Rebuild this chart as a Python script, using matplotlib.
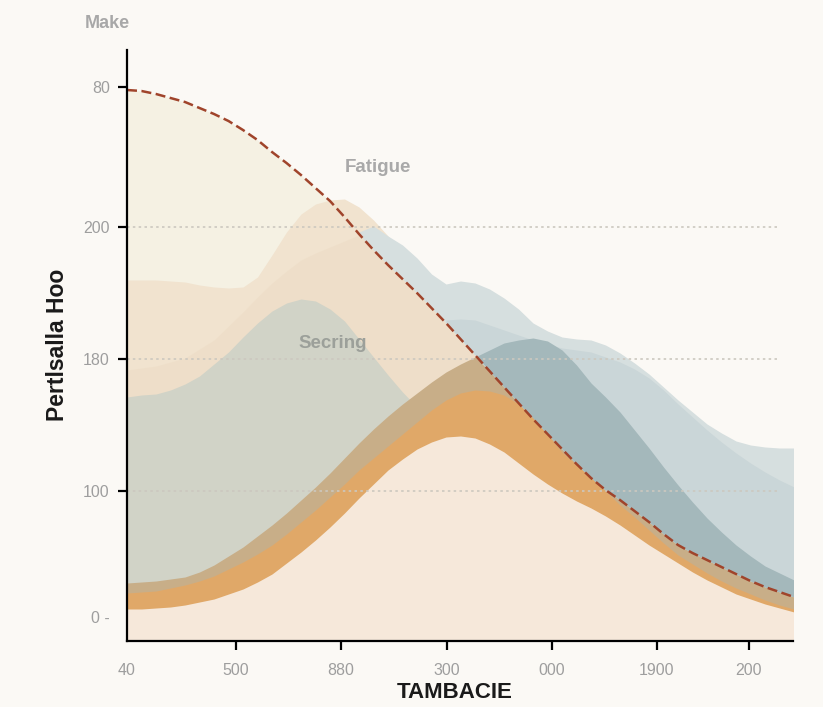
import numpy as np
import matplotlib
matplotlib.use('Agg')
import matplotlib.pyplot as plt

plt.rcParams['font.family'] = ['Liberation Sans', 'DejaVu Sans']

# sample positions along the x axis
x = [0, 14.5, 29, 43.5, 58, 72.5, 87, 101.5, 116, 130.5, 145, 159.5, 174, 188.5,
     203, 217.5, 232, 246.5, 261, 275.5, 290, 304.5, 319, 333.5, 348, 362.5, 377,
     391.5, 406, 420.5, 435, 449.5, 464, 478.5, 493, 507.5, 522, 536.5, 551, 565.5,
     580, 594.5, 609, 623.5, 638, 652.5, 667]

# layers (bottom to top)
dashed = [551, 550, 547, 543, 539, 533, 527, 520, 511, 501, 489, 478, 466, 453, 440, 424,
          407, 391, 376, 362, 348, 333, 318, 302, 286, 270, 254, 238, 222, 207, 192, 177,
          163, 151, 141, 130, 119, 107, 96, 88, 81, 74, 67, 60, 54, 49, 44]
fatigue = [361, 361, 361, 360, 359, 356, 354, 353, 354, 364, 386, 409, 427, 437, 441, 442,
           434, 421, 405, 388, 371, 351, 331, 316, 301, 284, 268, 255, 243, 227, 211, 199,
           188, 175, 161, 151, 141, 131, 121, 111, 101, 91, 81, 73, 66, 59, 51]
inner = [271, 273, 275, 279, 283, 292, 301, 315, 329, 344, 358, 370, 381, 388, 394, 400,
         406, 405, 401, 386, 366, 346, 326, 311, 296, 281, 266, 254, 241, 226, 211, 198,
         186, 173, 161, 151, 141, 131, 121, 111, 101, 91, 81, 73, 66, 58, 51]
secring = [244, 246, 247, 251, 257, 265, 277, 289, 304, 318, 330, 338, 342, 340, 332, 320,
           302, 284, 266, 249, 234, 221, 211, 202, 194, 186, 179, 172, 165, 155, 145, 138,
           131, 123, 116, 108, 101, 93, 86, 81, 76, 71, 66, 61, 56, 51, 46]
light1 = [161, 166, 171, 181, 191, 206, 221, 236, 251, 271, 291, 311, 331, 351, 371, 391,
          409, 415, 405, 396, 383, 367, 357, 360, 358, 352, 343, 332, 318, 310, 304, 302,
          301, 296, 288, 278, 267, 254, 241, 229, 217, 208, 200, 196, 194, 193, 193]
light2 = [41, 41, 41, 41, 41, 41, 41, 41, 41, 41, 41, 41, 41, 41, 41, 41,
          41, 41, 41, 41, 41, 41, 321, 322, 321, 316, 311, 306, 301, 297, 293, 291,
          289, 284, 279, 272, 263, 251, 237, 224, 211, 199, 188, 178, 169, 161, 154]
dark = [58, 59, 60, 62, 64, 69, 76, 85, 94, 105, 116, 128, 141, 154, 168, 183,
        198, 212, 225, 237, 248, 259, 269, 277, 284, 291, 298, 301, 303, 300, 291, 276,
        258, 244, 229, 211, 193, 174, 156, 139, 123, 109, 96, 85, 75, 68, 61]
orange = [48, 49, 50, 53, 56, 60, 65, 72, 79, 87, 96, 107, 119, 131, 144, 157,
          171, 183, 195, 207, 219, 231, 241, 248, 251, 250, 246, 237, 223, 206, 189, 176,
          163, 150, 136, 124, 111, 98, 86, 77, 68, 60, 53, 47, 41, 36, 32]
cream = [32, 32, 33, 34, 36, 39, 42, 47, 52, 59, 67, 78, 89, 101, 114, 128,
         143, 157, 171, 182, 192, 199, 204, 205, 203, 197, 189, 178, 167, 157, 148, 140,
         133, 125, 116, 106, 96, 87, 78, 69, 61, 54, 47, 42, 37, 33, 29]

xtick_pos = [0, 109, 214, 320, 425, 530, 622]
xtick_lab = ['40', '500', '880', '300', '000', '1900', '200']
ytick_pos = [24, 150, 282, 414, 554]
ytick_lab = ['0 -', '100', '180', '200', '80']
grid_y = [150, 282, 414]

x = np.array(x)
dashed = np.array(dashed)
dark = np.array(dark)
light1 = np.array(light1)
light2 = np.array(light2)

bg = '#FBF9F5'
fig = plt.figure(figsize=(8.23, 7.07), dpi=100, facecolor=bg)
ax = fig.add_axes([127/823, 66/707, 666/823, 591/707])
ax.set_facecolor(bg)

ax.fill_between(x, 0, dashed, color='#F5F1E3', lw=0, zorder=1)
ax.fill_between(x, 0, fatigue, color='#F1E3CF', lw=0, zorder=2)
ax.fill_between(x, 0, inner, color='#EDDCC5', alpha=0.6, lw=0, zorder=2.1)
ax.fill_between(x, 0, secring, color='#D1D3C7', lw=0, zorder=2.5)
ax.fill_between(x, dashed, light1, where=light1 > dashed, interpolate=True,
                color='#D6DFDF', lw=0, zorder=3)
ax.fill_between(x, dashed, light2, where=light2 > dashed, interpolate=True,
                color='#CAD6D8', lw=0, zorder=3.1)
ax.fill_between(x, 0, np.minimum(dark, dashed), color='#C8AE88', lw=0, zorder=3.5)
ax.fill_between(x, dashed, dark, where=dark > dashed, interpolate=True,
                color='#A4B8BB', lw=0, zorder=3.6)
ax.fill_between(x, 0, orange, color='#E3A866', alpha=0.92, lw=0, zorder=4)
ax.fill_between(x, 0, cream, color='#F6E8DA', lw=0, zorder=4.5)

ax.hlines(grid_y, 0, 650, colors='#CCC8BF', lw=1.2, linestyles=(0, (1.5, 2)), zorder=8)
ax.plot(x, dashed, color='#A0442B', lw=1.8, dashes=(4, 1.8), zorder=9)

ax.text(251, 473, 'Fatigue', fontsize=13.5, fontweight='bold', color='#A9A9A9',
        ha='center', va='center', zorder=10)
ax.text(206, 297, 'Secring', fontsize=13.5, fontweight='bold', color='#9CA09A',
        ha='center', va='center', zorder=10)

ax.set_xlim(0, 666)
ax.set_ylim(0, 591)
ax.set_xticks(xtick_pos, xtick_lab)
ax.set_yticks(ytick_pos, ytick_lab)
ax.tick_params(color='black', labelcolor='#9E9E9E', width=1.6, length=6.5, labelsize=11.5)
ax.tick_params(axis='x', pad=9)
ax.tick_params(axis='y', pad=6)
ax.xaxis.get_major_ticks()[0].tick1line.set_visible(False)
ax.yaxis.get_major_ticks()[0].tick1line.set_visible(False)

for s in ['top', 'right']:
    ax.spines[s].set_visible(False)
for s in ['left', 'bottom']:
    ax.spines[s].set_linewidth(1.6)
    ax.spines[s].set_color('black')
    ax.spines[s].set_zorder(11)

fig.text(107/823, 1 - 23/707, 'Make', fontsize=13, fontweight='bold', color='#A8A8A8',
         ha='center', va='center')
fig.text(455/823, 1 - 693/707, 'TAMBACIE', fontsize=16, fontweight='bold', color='#1A1A1A',
         ha='center', va='center')
fig.text(58/823, 1 - 345/707, 'Pertlsalla Hoo', fontsize=16.5, fontweight='bold',
         color='#1A1A1A', rotation=90, ha='center', va='center')

fig.savefig('out.png', dpi=100, facecolor=bg)
